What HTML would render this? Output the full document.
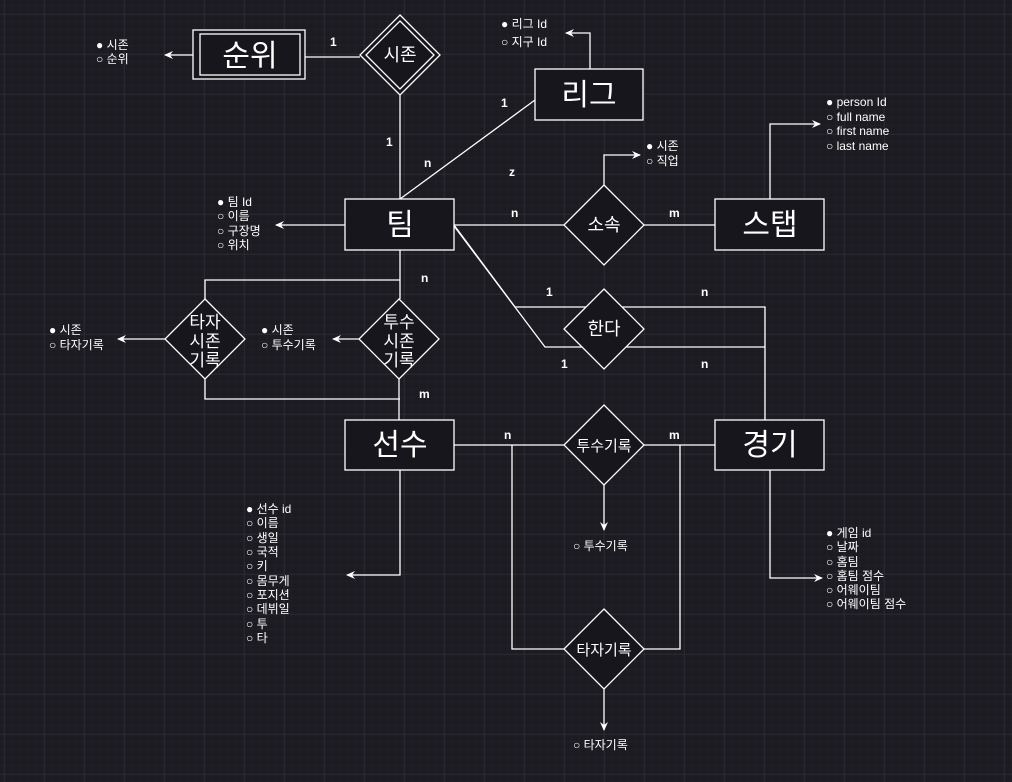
<!DOCTYPE html>
<html><head><meta charset="utf-8"><style>
html,body{margin:0;padding:0;width:1012px;height:782px;overflow:hidden;background:#1c1b22}
svg{display:block}
text{font-family:"Liberation Sans","Noto Sans CJK KR",sans-serif;fill:#fff}
.l{font-size:12px}
.t{font-size:30px;text-anchor:middle}
.d{font-size:18px;text-anchor:middle}
.c{font-size:12px;font-weight:bold}
</style></head><body>
<svg width="1012" height="782" xmlns="http://www.w3.org/2000/svg">
<defs>
<pattern id="mi" width="8" height="8" patternUnits="userSpaceOnUse" x="4" y="6"><path d="M8 0V8M0 8H8" stroke="#24232a" stroke-width="1" fill="none"/></pattern>
<pattern id="ma" width="40" height="40" patternUnits="userSpaceOnUse" x="4" y="14"><path d="M0 0V40M0 0H40" stroke="#33323a" stroke-width="1" fill="none"/></pattern>
<marker id="ar" markerWidth="10" markerHeight="10" refX="8" refY="5" orient="auto" markerUnits="userSpaceOnUse"><path d="M0 1L9 5L0 9L3 5Z" fill="#fff"/></marker>
</defs>
<rect width="1012" height="782" fill="url(#mi)"/>
<rect width="1012" height="782" fill="url(#ma)"/>
<g stroke="#fff" stroke-width="1.3" fill="none">
<line x1="305" y1="57" x2="360" y2="57"/>
<path d="M193 55H165" marker-end="url(#ar)"/>
<line x1="400" y1="95" x2="400" y2="199"/>
<path d="M590 69V33H566" marker-end="url(#ar)"/>
<line x1="535" y1="100" x2="400" y2="199"/>
<path d="M345 225H276" marker-end="url(#ar)"/>
<line x1="454" y1="225" x2="564" y2="225"/>
<line x1="644" y1="225" x2="715" y2="225"/>
<path d="M604 185V155H640" marker-end="url(#ar)"/>
<path d="M770 199V124H820" marker-end="url(#ar)"/>
<path d="M454 225L515 307H765V420"/>
<path d="M454 226L545 347H765"/>
<path d="M400 250V299"/>
<path d="M205 299V280H400"/>
<path d="M205 379V399H400"/>
<path d="M399 379V420"/>
<path d="M165 339H118" marker-end="url(#ar)"/>
<path d="M359 339H333" marker-end="url(#ar)"/>
<path d="M400 470V575H347" marker-end="url(#ar)"/>
<line x1="454" y1="445" x2="564" y2="445"/>
<line x1="644" y1="445" x2="715" y2="445"/>
<path d="M512 445V649H564"/>
<path d="M680 445V649H644"/>
<path d="M604 485V530" marker-end="url(#ar)"/>
<path d="M604 689V730" marker-end="url(#ar)"/>
<path d="M770 470V578H822" marker-end="url(#ar)"/>
</g>
<g stroke="#fff" stroke-width="1.3" fill="#17161c">
<rect x="193" y="30" width="112" height="49"/>
<rect x="200" y="34" width="100" height="41"/>
<path d="M400 15L440 55L400 95L360 55Z"/>
<path d="M400 21L434 55L400 89L366 55Z"/>
<rect x="535" y="69" width="108" height="51"/>
<rect x="345" y="199" width="109" height="51"/>
<path d="M604 185L644 225L604 265L564 225Z"/>
<rect x="715" y="199" width="109" height="51"/>
<path d="M604 289L644 329L604 369L564 329Z"/>
<path d="M205 299L245 339L205 379L165 339Z"/>
<path d="M399 299L439 339L399 379L359 339Z"/>
<rect x="345" y="420" width="109" height="50"/>
<path d="M604 405L644 445L604 485L564 445Z"/>
<rect x="715" y="420" width="109" height="50"/>
<path d="M604 609L644 649L604 689L564 649Z"/>
</g>
<text class="t" x="250" y="66">순위</text>
<text class="d" x="400" y="61">시존</text>
<text class="t" x="589" y="105">리그</text>
<text class="t" x="400" y="235">팀</text>
<text class="d" x="604" y="231">소속</text>
<text class="t" x="770" y="235">스탭</text>
<text class="d" x="604" y="335">한다</text>
<g style="font-size:17px">
<text class="d" x="205" y="328" style="font-size:17px">타자</text><text class="d" x="205" y="347" style="font-size:17px">시존</text><text class="d" x="205" y="366" style="font-size:17px">기록</text>
<text class="d" x="399" y="328" style="font-size:17px">투수</text><text class="d" x="399" y="347" style="font-size:17px">시존</text><text class="d" x="399" y="366" style="font-size:17px">기록</text>
</g>
<text class="t" x="400" y="455">선수</text>
<text class="d" x="604" y="451" style="font-size:15px">투수기록</text>
<text class="t" x="770" y="455">경기</text>
<text class="d" x="604" y="655" style="font-size:15px">타자기록</text>
<g>
<text class="c" x="330" y="46">1</text>
<text class="c" x="386" y="146">1</text>
<text class="c" x="424" y="167">n</text>
<text class="c" x="501" y="107">1</text>
<text class="c" x="509" y="176">z</text>
<text class="c" x="511" y="217">n</text>
<text class="c" x="669" y="217">m</text>
<text class="c" x="546" y="296">1</text>
<text class="c" x="701" y="296">n</text>
<text class="c" x="561" y="368">1</text>
<text class="c" x="701" y="368">n</text>
<text class="c" x="421" y="282">n</text>
<text class="c" x="419" y="398">m</text>
<text class="c" x="504" y="439">n</text>
<text class="c" x="669" y="439">m</text>
</g>
<g>
<text class="l" x="96" y="49">● 시존</text><text class="l" x="96" y="63">○ 순위</text>
<text class="l" x="501" y="28">● 리그 Id</text><text class="l" x="501" y="46">○ 지구 Id</text>
<text class="l" x="217" y="206">● 팀 Id</text><text class="l" x="217" y="220">○ 이름</text><text class="l" x="217" y="235">○ 구장명</text><text class="l" x="217" y="249">○ 위치</text>
<text class="l" x="646" y="150">● 시존</text><text class="l" x="646" y="165">○ 직업</text>
<text class="l" x="826" y="106">● person Id</text><text class="l" x="826" y="121">○ full name</text><text class="l" x="826" y="135">○ first name</text><text class="l" x="826" y="150">○ last name</text>
<text class="l" x="49" y="334">● 시존</text><text class="l" x="49" y="349">○ 타자기록</text>
<text class="l" x="261" y="334">● 시존</text><text class="l" x="261" y="349">○ 투수기록</text>
<text class="l" x="246" y="513">● 선수 id</text><text class="l" x="246" y="527">○ 이름</text><text class="l" x="246" y="542">○ 생일</text><text class="l" x="246" y="556">○ 국적</text><text class="l" x="246" y="570">○ 키</text><text class="l" x="246" y="585">○ 몸무게</text><text class="l" x="246" y="599">○ 포지션</text><text class="l" x="246" y="613">○ 데뷔일</text><text class="l" x="246" y="628">○ 투</text><text class="l" x="246" y="642">○ 타</text>
<text class="l" x="573" y="550">○ 투수기록</text>
<text class="l" x="573" y="749">○ 타자기록</text>
<text class="l" x="826" y="537">● 게임 id</text><text class="l" x="826" y="551">○ 날짜</text><text class="l" x="826" y="566">○ 홈팀</text><text class="l" x="826" y="580">○ 홈팀 점수</text><text class="l" x="826" y="594">○ 어웨이팀</text><text class="l" x="826" y="608">○ 어웨이팀 점수</text>
</g>
</svg>
</body></html>
